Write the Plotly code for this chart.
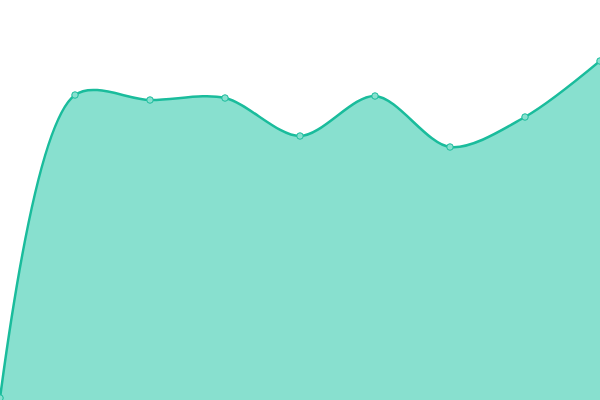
import plotly.graph_objects as go

x_vals = [0, 1, 2, 3, 4, 5, 6, 7, 8]
y_vals = [2, 305, 300, 302, 264, 304, 253, 283, 339]

fig = go.Figure()
fig.add_trace(go.Scatter(
    x=x_vals, y=y_vals,
    mode="lines+markers",
    line=dict(color="#1abc9c", width=2.5, shape="spline", smoothing=0.9),
    marker=dict(size=6.5, color="#88e0cf", line=dict(color="#1abc9c", width=1)),
    fill="tozeroy",
    fillcolor="#88e0cf",
    hoverinfo="skip",
))
fig.update_layout(
    width=600, height=400,
    margin=dict(l=0, r=0, t=0, b=0),
    paper_bgcolor="white", plot_bgcolor="white",
    showlegend=False,
    xaxis=dict(range=[0, 8], visible=False),
    yaxis=dict(range=[0, 400], visible=False),
)
fig.write_html(
    "out.html",
    config={"displayModeBar": False},
    post_script="document.body.style.margin='0';document.body.style.padding='0';document.body.style.overflow='hidden';",
)
